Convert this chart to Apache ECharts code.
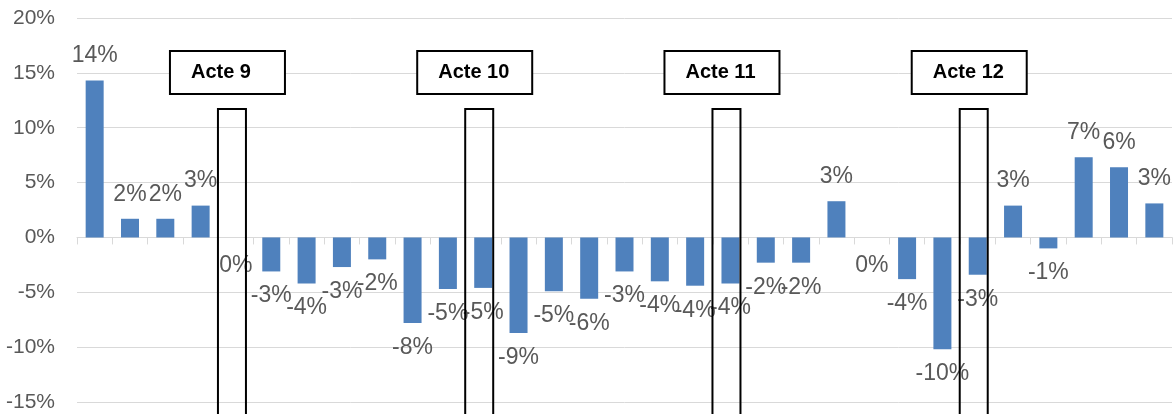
<!DOCTYPE html>
<html><head><meta charset="utf-8">
<script src="https://cdn.jsdelivr.net/npm/echarts@6/dist/echarts.min.js"></script>
<style>html,body{margin:0;padding:0;background:#fff}#c{width:1173px;height:414px}</style>
</head><body><div id="c"></div>
<script>
const categories = ['1','2','3','4','5','6','7','8','9','10','11','12','13','14','15','16','17','18','19','20','21','22','23','24','25','26','27','28','29','30','31'];
const values = [14.3, 1.7, 1.7, 2.9, 0, -3.1, -4.2, -2.7, -2.0, -7.8, -4.7, -4.6, -8.7, -4.9, -5.6, -3.1, -4.0, -4.4, -4.2, -2.3, -2.3, 3.3, 0, -3.8, -10.2, -3.4, 2.9, -1.0, 7.3, 6.4, 3.1];
const yTicks = { min: -15, max: 20, interval: 5 };
const actePositions = [4, 11, 18, 25];
const acteLabels = ['Acte 9', 'Acte 10', 'Acte 11', 'Acte 12'];
const acteBoxTop = 17;
const acteRectTop = 11.7;

const chart = echarts.init(document.getElementById('c'));
chart.setOption({
  animation: false,
  grid: { left: 77, right: 1, top: 18, bottom: 12 },
  xAxis: {
    type: 'category',
    data: categories,
    axisLine: { lineStyle: { color: '#d9d9d9', width: 1 } },
    axisTick: { show: true, length: 7, lineStyle: { color: '#d9d9d9' } },
    axisLabel: { show: false },
    splitLine: { show: false }
  },
  yAxis: {
    type: 'value',
    min: yTicks.min, max: yTicks.max, interval: yTicks.interval,
    axisLine: { show: false },
    axisTick: { show: false },
    axisLabel: { formatter: '{value}%', color: '#595959', fontSize: 21, fontFamily: 'Liberation Sans', margin: 22 },
    splitLine: { lineStyle: { color: '#d9d9d9', width: 1 } }
  },
  series: [
    {
      type: 'bar',
      barWidth: 18,
      data: values.map(v => ({ value: v, label: { position: v > 0 ? 'top' : 'bottom', distance: v === 0 ? 17 : 13 } })),
      itemStyle: { color: '#4f81bd' },
      label: {
        show: true,
        distance: 13,
        color: '#595959',
        fontSize: 23,
        fontFamily: 'Liberation Sans',
        formatter: p => Math.round(p.value) + '%'
      },
      z: 2
    },
    {
      type: 'custom',
      clip: false,
      z: 5,
      data: actePositions.map(i => [i, 0]),
      renderItem: function (params, api) {
        const idx = api.value(0);
        const c0 = api.coord([idx, acteBoxTop]);
        const c1 = api.coord([idx, acteRectTop]);
        const cx = c0[0];
        return {
          type: 'group',
          children: [
            { type: 'rect', shape: { x: cx - 18, y: c1[1], width: 28, height: 420 - c1[1] },
              style: { fill: 'none', stroke: '#000', lineWidth: 2 } },
            { type: 'rect', shape: { x: cx - 66, y: c0[1], width: 115, height: 43 },
              style: { fill: '#fff', stroke: '#000', lineWidth: 2 } },
            { type: 'text', x: cx - 45, y: c0[1] + 22,
              style: { text: acteLabels[params.dataIndex], fill: '#000', fontSize: 20, fontWeight: 'bold',
                       fontFamily: '"Liberation Sans Narrow", "Liberation Sans"',
                       textAlign: 'left', textVerticalAlign: 'middle' } }
          ]
        };
      }
    }
  ]
});
</script></body></html>
